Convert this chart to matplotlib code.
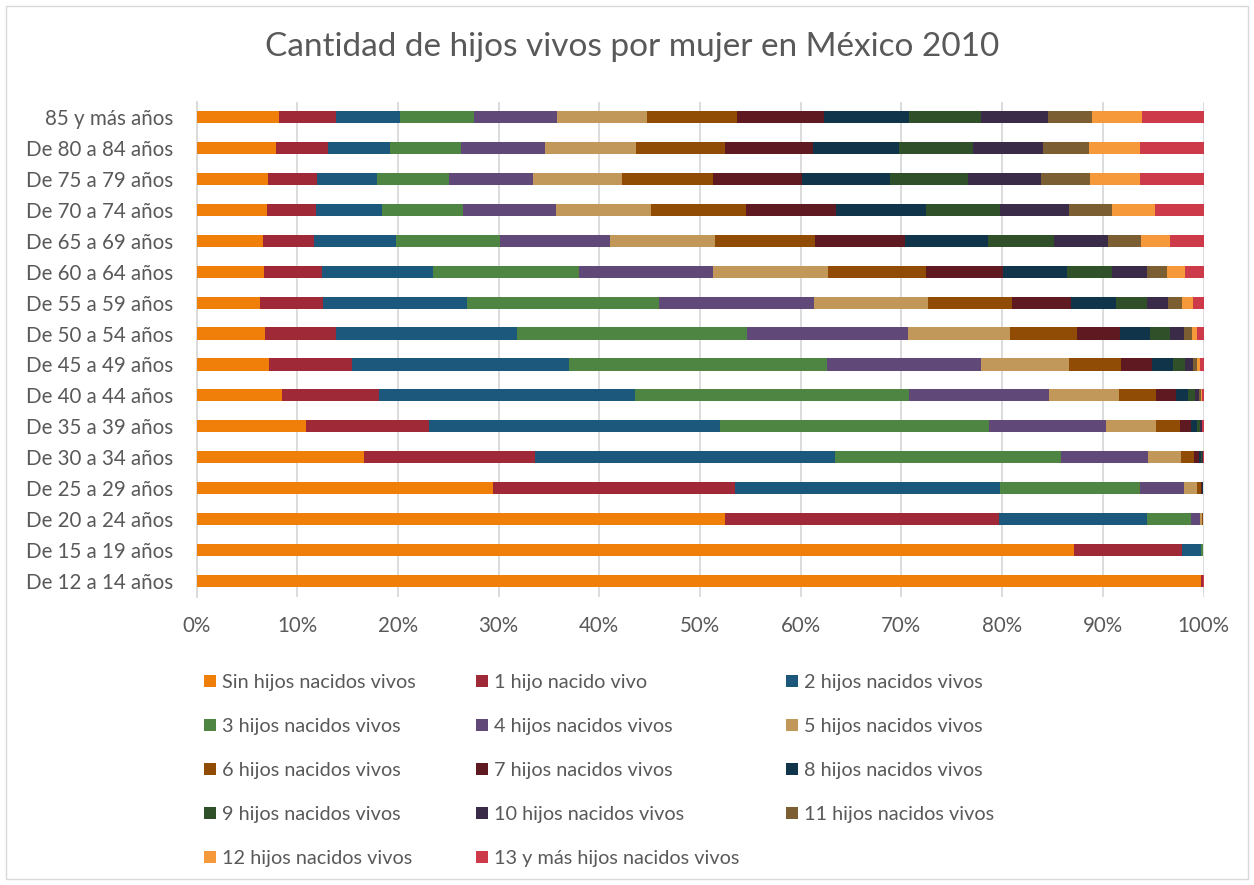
import matplotlib
matplotlib.use("Agg")
import matplotlib.pyplot as plt
from matplotlib.patches import Rectangle
import numpy as np

plt.rcParams['font.family'] = ['Lato', 'DejaVu Sans']

# Age groups, bottom to top
grupos = ["De 12 a 14 años", "De 15 a 19 años", "De 20 a 24 años", "De 25 a 29 años",
          "De 30 a 34 años", "De 35 a 39 años", "De 40 a 44 años", "De 45 a 49 años",
          "De 50 a 54 años", "De 55 a 59 años", "De 60 a 64 años", "De 65 a 69 años",
          "De 70 a 74 años", "De 75 a 79 años", "De 80 a 84 años", "85 y más años"]

# Share of women (%) by number of live-born children, one list per category
sin_hijos = [99.8, 87.1, 52.5, 29.5, 16.6, 10.9, 8.5, 7.2, 6.8, 6.3, 6.7, 6.6, 7.0, 7.1, 7.9, 8.2]
hijos_1 = [0.15, 10.8, 27.2, 24.0, 17.0, 12.2, 9.6, 8.2, 7.1, 6.3, 5.8, 5.1, 4.9, 4.9, 5.2, 5.7]
hijos_2 = [0.02, 1.85, 14.7, 26.3, 29.8, 28.9, 25.4, 21.6, 17.9, 14.3, 11.0, 8.1, 6.5, 5.9, 6.1, 6.3]
hijos_3 = [0.01, 0.2, 4.4, 13.9, 22.5, 26.7, 27.3, 25.6, 22.9, 19.0, 14.5, 10.4, 8.1, 7.2, 7.1, 7.4]
hijos_4 = [0.005, 0.03, 0.9, 4.4, 8.6, 11.6, 13.9, 15.3, 16.0, 15.4, 13.3, 10.9, 9.2, 8.3, 8.3, 8.2]
hijos_5 = [0.003, 0.01, 0.2, 1.3, 3.3, 5.0, 6.9, 8.7, 10.1, 11.3, 11.4, 10.4, 9.4, 8.9, 9.0, 8.9]
hijos_6 = [0.002, 0.005, 0.05, 0.4, 1.3, 2.4, 3.7, 5.2, 6.6, 8.4, 9.7, 10.0, 9.5, 9.0, 8.9, 9.0]
hijos_7 = [0.002, 0.002, 0.02, 0.12, 0.5, 1.1, 2.0, 3.1, 4.3, 5.8, 7.7, 8.9, 8.9, 8.8, 8.7, 8.6]
hijos_8 = [0.001, 0.001, 0.01, 0.04, 0.2, 0.6, 1.2, 2.1, 3.0, 4.5, 6.3, 8.3, 8.9, 8.8, 8.6, 8.5]
hijos_9 = [0.001, 0.001, 0.005, 0.02, 0.1, 0.3, 0.7, 1.2, 2.0, 3.1, 4.5, 6.5, 7.4, 7.7, 7.3, 7.1]
hijos_10 = [0.001, 0.001, 0.003, 0.01, 0.05, 0.12, 0.4, 0.8, 1.4, 2.1, 3.5, 5.4, 6.8, 7.3, 7.0, 6.7]
hijos_11 = [0.001, 0.001, 0.002, 0.005, 0.02, 0.05, 0.15, 0.4, 0.8, 1.4, 2.0, 3.3, 4.3, 4.8, 4.5, 4.3]
hijos_12 = [0.001, 0.001, 0.002, 0.005, 0.01, 0.03, 0.1, 0.25, 0.5, 1.1, 1.8, 2.9, 4.3, 5.0, 5.1, 5.0]
hijos_13_mas = [0.005, 0.005, 0.01, 0.03, 0.04, 0.1, 0.15, 0.35, 0.6, 1.0, 1.8, 3.3, 4.8, 6.3, 6.3, 6.1]

series = ["Sin hijos nacidos vivos", "1 hijo nacido vivo", "2 hijos nacidos vivos",
          "3 hijos nacidos vivos", "4 hijos nacidos vivos", "5 hijos nacidos vivos",
          "6 hijos nacidos vivos", "7 hijos nacidos vivos", "8 hijos nacidos vivos",
          "9 hijos nacidos vivos", "10 hijos nacidos vivos", "11 hijos nacidos vivos",
          "12 hijos nacidos vivos", "13 y más hijos nacidos vivos"]

valores = [sin_hijos, hijos_1, hijos_2, hijos_3, hijos_4, hijos_5, hijos_6, hijos_7,
           hijos_8, hijos_9, hijos_10, hijos_11, hijos_12, hijos_13_mas]

colores = ["#F07F09", "#9F2936", "#1B587C", "#4E8542", "#604878", "#C19859",
           "#904C05", "#5F1920", "#10354A", "#2F5028", "#3A2B48", "#7B5F33",
           "#F5993A", "#CD3B4A"]

texto = "#595959"
W, H = 1254, 885

fig = plt.figure(figsize=(W / 100, H / 100), dpi=100)
ax = fig.add_axes([196.5 / W, 1 - 596.5 / H, 1007 / W, 495 / H])

datos = np.array(valores, dtype=float)
porcentaje = datos / datos.sum(axis=0) * 100
y = np.arange(len(grupos))
izquierda = np.zeros(len(grupos))
for nombre, fila, color in zip(series, porcentaje, colores):
    ax.barh(y, fila, left=izquierda, height=0.39, color=color, label=nombre,
            linewidth=0, zorder=3)
    izquierda += fila

ax.set_xlim(0, 100)
ax.set_ylim(-0.5, len(grupos) - 0.5)
ax.set_xticks(np.arange(0, 101, 10))
ax.set_xticklabels([f"{v}%" for v in range(0, 101, 10)])
ax.set_yticks(y)
ax.set_yticklabels(grupos)
ax.grid(axis="x", color="#D9D9D9", linewidth=1.3, zorder=0)
for lado in ["top", "right", "bottom"]:
    ax.spines[lado].set_visible(False)
ax.spines["left"].set_color("#D9D9D9")
ax.spines["left"].set_linewidth(1.3)
ax.tick_params(axis="both", length=0, labelsize=14.8, labelcolor=texto)
ax.tick_params(axis="y", pad=17)
ax.tick_params(axis="x", pad=14)

fig.text(632 / W, 1 - 47 / H, "Cantidad de hijos vivos por mujer en México 2010",
         ha="center", va="center", fontsize=24, color=texto)

# Legend laid out in rows of three, as in a spreadsheet chart
col_x = [204, 476, 786]
fila_y = [681, 725, 769, 813, 857]
for i, (nombre, color) in enumerate(zip(series, colores)):
    cx = col_x[i % 3]
    cy = fila_y[i // 3]
    fig.patches.append(Rectangle((cx / W, 1 - (cy + 6) / H), 12 / W, 12 / H,
                                 transform=fig.transFigure, facecolor=color,
                                 edgecolor="none"))
    fig.text((cx + 18) / W, 1 - cy / H, nombre, ha="left", va="center_baseline",
             fontsize=14.3, color=texto)

fig.patches.append(Rectangle((6 / W, 6 / H), (W - 12) / W, (H - 12) / H,
                             transform=fig.transFigure, facecolor="none",
                             edgecolor="#D9D9D9", linewidth=1))

fig.savefig("out.png", dpi=100, facecolor="white")
